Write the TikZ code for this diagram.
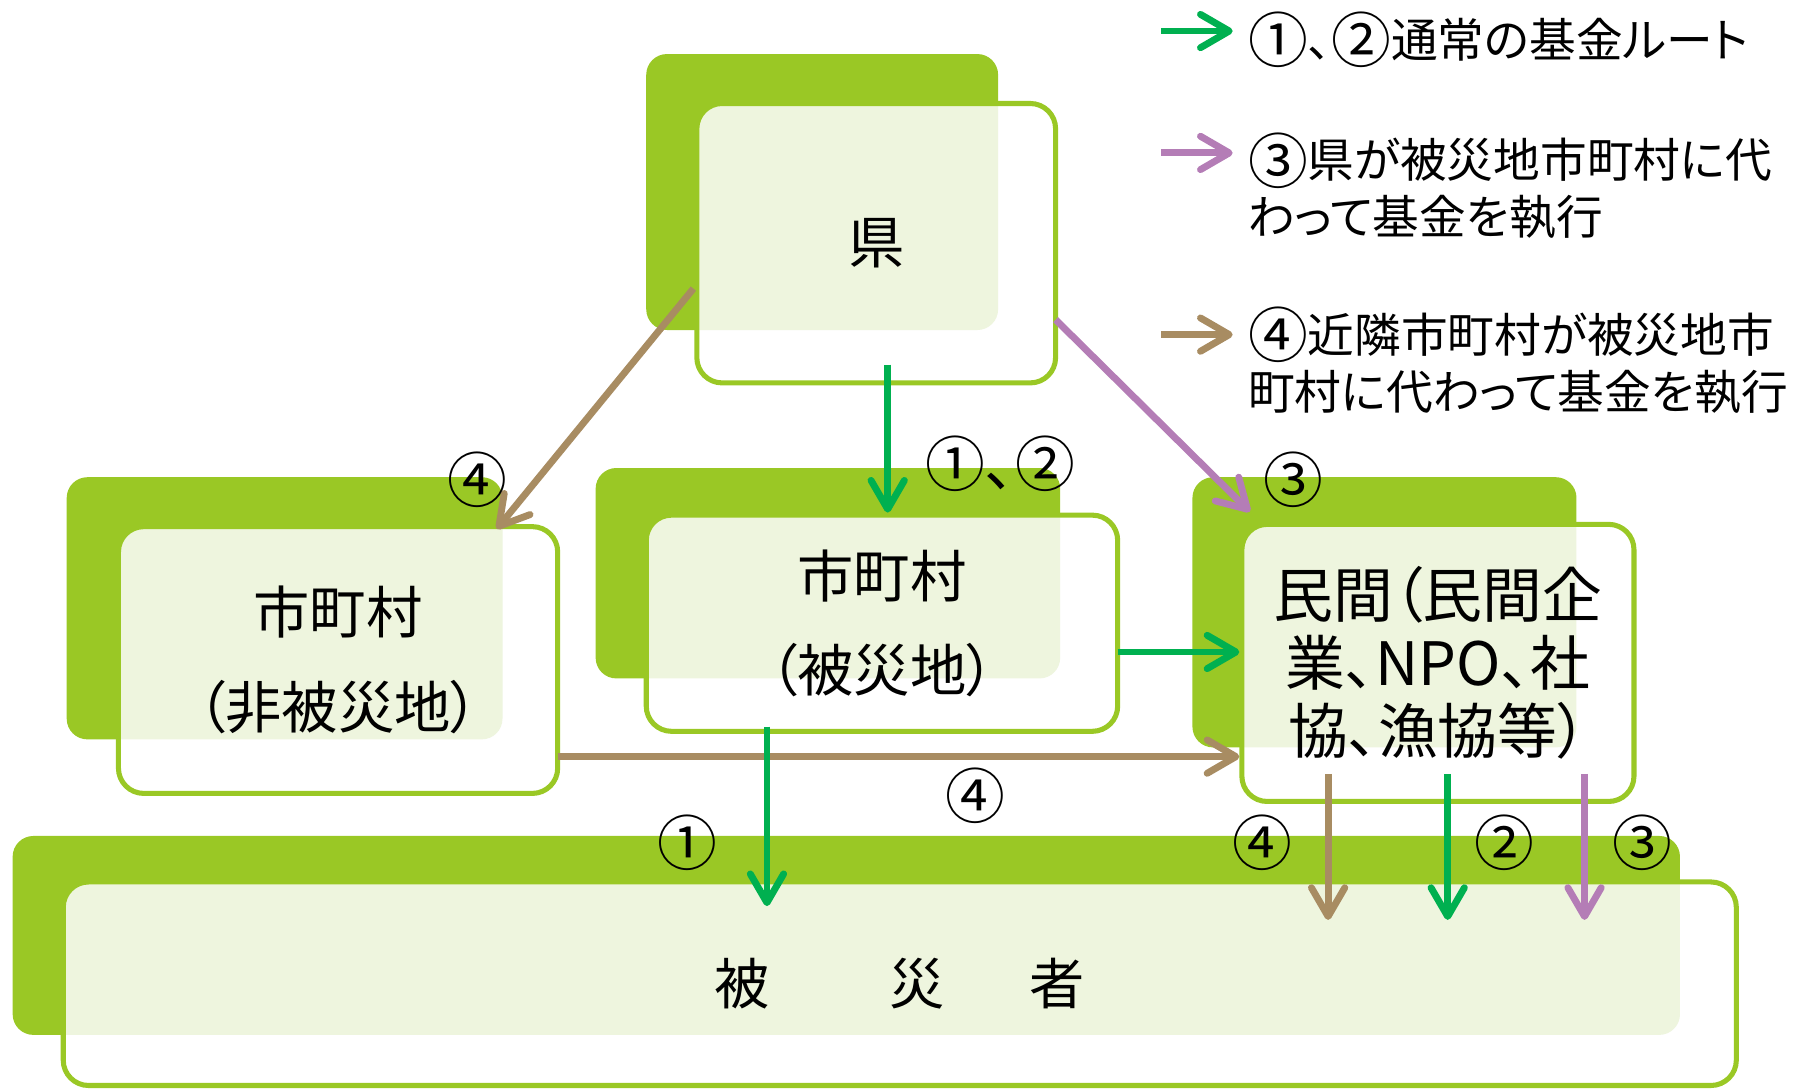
\documentclass[tikz,border=0pt]{standalone}
\usepackage{fontspec}
\setmainfont{Noto Sans CJK JP}[RawFeature=+palt]
\usetikzlibrary{arrows.meta}
\definecolor{backc}{RGB}{154,200,37}
\definecolor{tintc}{RGB}{238,245,222}
\definecolor{greenA}{RGB}{0,176,80}
\definecolor{purpleA}{RGB}{180,125,182}
\definecolor{brownA}{RGB}{168,140,98}
\tikzset{
  backbox/.style={fill=backc, rounded corners=9pt},
  tint/.style={fill=tintc, rounded corners=9pt},
  frontbox/.style={draw=backc, line width=2.2pt, rounded corners=11pt, inner sep=0pt, align=center},
  flow/.style={line width=3pt, -{Straight Barb[length=12.5pt,width=14.5pt,round]}},
  numlabel/.style={font=\fontsize{26pt}{28pt}\selectfont, inner sep=0pt},
  legendtext/.style={font=\fontsize{20.3pt}{24.5pt}\selectfont, inner sep=0pt, anchor=west, align=left}
}
\newcommand{\cn}[1]{{\fontsize{26pt}{24.5pt}\selectfont\raisebox{-2.3pt}{#1}}}
\newcommand{\greenpanel}[8]{%
  \fill[backbox] (#1,#2) rectangle (#3,#4);
  \fill[white, rounded corners=11pt] (#5,#6) rectangle (#7,#8);
  \begin{scope}
    \clip[rounded corners=11pt] (#5,#6) rectangle (#7,#8);
    \fill[tint] (#1,#2) rectangle (#3,#4);
  \end{scope}}
\begin{document}
\begin{tikzpicture}[x=0.5pt,y=-0.5pt]
\useasboundingbox (0,0) rectangle (1568,947);

% panels
\greenpanel{562}{47}{868}{287}{606}{90}{918}{333}
\node[frontbox, minimum width=156pt, minimum height=121.5pt, font=\fontsize{24.5pt}{29pt}\selectfont] (ken) at (762,211.5) {県};

\greenpanel{518}{407}{922}{590}{562}{448}{972}{636}
\node[frontbox, minimum width=205pt, minimum height=94pt, font=\fontsize{24.5pt}{41pt}\selectfont] (hisai) at (767,542) {市町村\\（被災地）};

\greenpanel{58}{415}{437}{643}{103}{458}{485}{690}
\node[frontbox, minimum width=191pt, minimum height=116pt, font=\fontsize{24.5pt}{41pt}\selectfont] (hihisai) at (294,574) {市町村\\（非被災地）};

\greenpanel{1037}{415}{1371}{650}{1080}{456}{1421}{697}
\node[frontbox, minimum width=170.5pt, minimum height=120.5pt, font=\fontsize{26pt}{29.5pt}\selectfont] (minkan) at (1250.5,576.5) {民間（民間企\\業、NPO、社\\協、漁協等）};

\greenpanel{11}{727}{1461}{900}{55}{767}{1510}{944}
\node[frontbox, minimum width=727.5pt, minimum height=88.5pt, font=\fontsize{24pt}{29pt}\selectfont] (hisaisha) at (782.5,855.5) {被\hspace{52pt}災\hspace{37pt}者};

% connector end points
\coordinate (kenS) at (772,317);
\coordinate (kenE) at (918,278);
\coordinate (kenW) at (603,251);
\coordinate (minNW) at (1087,445);
\coordinate (hihNE) at (432,460);
\coordinate (hisE) at (972,567);
\coordinate (hihE) at (485,658);
\coordinate (hisS) at (667,632);
\coordinate (shaT1) at (667,788);
\coordinate (minS4) at (1155,673);
\coordinate (minS2) at (1259,673);
\coordinate (minS3) at (1378,673);
\coordinate (sha4) at (1155,800);
\coordinate (sha2) at (1259,800);
\coordinate (sha3) at (1378,800);

% connectors
\draw[flow, brownA] (hihE) -- (hihE -| minkan.west);
\draw[flow, greenA] (kenS) -- (kenS |- hisai.north);
\draw[flow, purpleA] (kenE) -- (minNW);
\draw[flow, brownA] (kenW) -- (hihNE);
\draw[flow, greenA] (hisE) -- (hisE -| minkan.west);
\draw[flow, greenA] (hisS) -- (shaT1);
\draw[flow, brownA] (minS4) -- (sha4);
\draw[flow, greenA] (minS2) -- (sha2);
\draw[flow, purpleA] (minS3) -- (sha3);

% labels
\node[numlabel] (l12) at (870,403) {①、②};
\node[numlabel] (l3a) at (1125,417) {③};
\node[numlabel] (l4a) at (415,417) {④};
\node[numlabel] (l4b) at (848,692) {④};
\node[numlabel] (l1) at (598,733) {①};
\node[numlabel] (l4c) at (1098,733) {④};
\node[numlabel] (l2) at (1308,733) {②};
\node[numlabel] (l3b) at (1428,733) {③};

% legend
\coordinate (lgA1) at (1010,27);  \coordinate (lgA2) at (1072,27);
\coordinate (lgB1) at (1010,133); \coordinate (lgB2) at (1072,133);
\coordinate (lgC1) at (1010,291); \coordinate (lgC2) at (1072,291);
\draw[flow, greenA] (lgA1) -- (lgA2);
\draw[flow, purpleA] (lgB1) -- (lgB2);
\draw[flow, brownA] (lgC1) -- (lgC2);
\node[legendtext] (lgtA) at (1085,35) {\cn{①}、\cn{②}通常の基金ルート};
\node[legendtext] (lgtB) at (1085,161.5) {\cn{③}県が被災地市町村に代\\わって基金を執行};
\node[legendtext] (lgtC) at (1085,313.5) {\cn{④}近隣市町村が被災地市\\町村に代わって基金を執行};
\end{tikzpicture}
\end{document}
